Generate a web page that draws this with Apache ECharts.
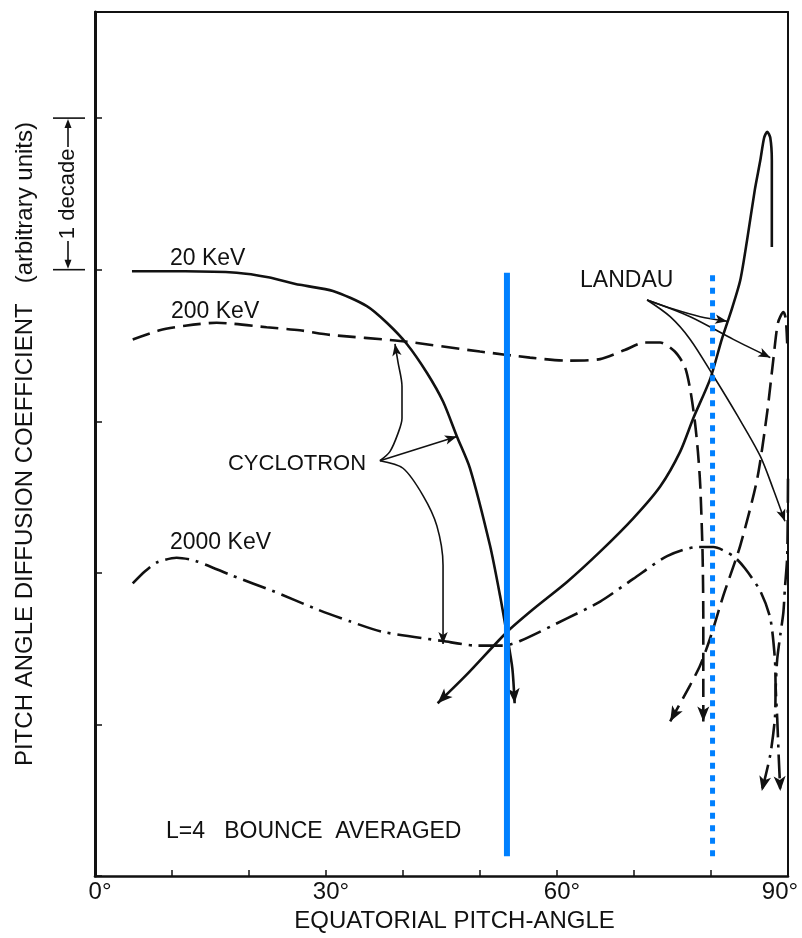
<!DOCTYPE html>
<html><head><meta charset="utf-8">
<script src="https://cdn.jsdelivr.net/npm/echarts@6/dist/echarts.min.js"></script>
<style>html,body{margin:0;padding:0;background:#fff}#c{width:802px;height:938px}</style>
</head><body><div id="c"></div>
<script>
// ---- axis settings (x: degrees, y: decades of the diffusion coefficient, arbitrary units) ----
const xLabelValues = [0, 30, 60, 90];
const X_MIN = 0, X_MAX = 90, Y_MIN = 0, Y_MAX = 5.7;

// ---- curves: [pitch angle (deg), log10 D (decades)] ----
const keV20Cyclotron = [[4.8,3.99],[11.7,3.99],[18.4,3.98],[22.5,3.95],[26.6,3.90],[30.9,3.86],[35.3,3.76],[37.9,3.65],[40.5,3.51],[43.1,3.32],[45.2,3.13],[47.0,2.90],[48.7,2.69],[51.3,2.18],[52.6,1.85],[53.5,1.59],[54.2,1.37],[54.5,1.14]];
const keV20Landau = [[44.5,1.14],[48.3,1.33],[53.5,1.61],[56.9,1.76],[61.3,1.94],[65.6,2.14],[69.9,2.36],[73.4,2.57],[76.0,2.80],[77.7,3.02],[79.9,3.28],[81.4,3.54],[82.7,3.74],[83.8,3.93],[84.7,4.20],[85.7,4.53],[86.4,4.72],[86.9,4.87],[87.3,4.91],[87.7,4.87],[87.9,4.72],[87.9,4.15]];
const keV200Cyclotron = [[4.9,3.54],[8.4,3.60],[11.7,3.63],[15.8,3.65],[22.3,3.62],[26.6,3.60],[30.5,3.57],[39.6,3.53],[50.0,3.46],[56.5,3.42],[61.3,3.40],[65.6,3.41],[68.8,3.47],[71.4,3.52],[73.4,3.52],[75.3,3.46],[76.6,3.36],[77.3,3.21],[77.9,3.00],[78.3,2.80],[78.6,2.58],[78.9,2.14],[79.0,1.70],[79.0,1.02]];
const keV200Landau = [[74.7,1.02],[77.3,1.26],[78.6,1.39],[79.9,1.57],[81.6,1.85],[83.8,2.18],[86.0,2.62],[87.3,3.06],[88.1,3.41],[88.7,3.65],[89.4,3.72],[89.7,3.68],[89.9,3.51]];
const keV2000Cyclotron = [[4.9,1.93],[6.5,2.01],[8.1,2.07],[10.6,2.10],[13.0,2.08],[17.9,1.98],[23.1,1.88],[28.8,1.76],[33.1,1.68],[37.4,1.61],[45.2,1.55],[49.6,1.52],[53.0,1.52],[55.2,1.55],[61.3,1.70],[65.6,1.81],[69.9,1.96],[74.3,2.11],[78.2,2.17],[80.3,2.17],[82.9,2.11],[84.4,2.03],[86.4,1.88],[87.7,1.70],[88.3,1.43],[88.4,1.24],[88.6,1.04],[88.8,0.78],[89.0,0.56]];
const keV2000Landau = [[90.0,2.62],[89.9,2.11],[89.6,1.90],[89.4,1.74],[89.0,1.59],[88.6,1.43],[88.4,1.24],[88.3,1.04],[87.7,0.80],[86.6,0.56]];

// ---- annotation pointer lines ----
const cyclotronToK20 = [[37.0,2.74],[47.0,2.90]];
const cyclotronToK200 = [[37.0,2.74],[38.3,2.80],[39.35,2.92],[39.87,3.02],[39.87,3.23],[39.35,3.39],[38.96,3.51]];
const cyclotronToK2000 = [[37.0,2.74],[40.0,2.69],[42.6,2.51],[44.4,2.31],[45.2,2.05],[45.2,1.53]];
const landauToK20 = [[71.7,3.80],[75.1,3.74],[78.6,3.69],[82.1,3.66]];
const landauToK200 = [[71.7,3.80],[77.3,3.69],[82.9,3.54],[87.7,3.42]];
const landauToK2000 = [[71.7,3.80],[74.7,3.69],[77.3,3.54],[80.3,3.30],[83.4,3.04],[86.4,2.77],[88.1,2.55],[89.6,2.34]];

// ---- blue marker lines ----
const blueSolidLine = [[53.5,0.13],[53.5,3.98]];
const blueDottedLine = [[80.2,0.13],[80.2,3.98]];

// ---- text labels [text, x (deg), y (decades)] ----
const textLabels = [
  ['20 KeV', 9.74, 4.07],
  ['200 KeV', 9.87, 3.72],
  ['2000 KeV', 9.74, 2.20],
  ['CYCLOTRON', 17.27, 2.72],
  ['LANDAU', 62.99, 3.93],
  ['L=4   BOUNCE  AVERAGED', 9.22, 0.29]
];
const decadeBracket = [4, 5];

const INK = '#111';
const FONT = '"Liberation Sans", Arial, sans-serif';
const G = {left: 95, right: 14, top: 12, bottom: 60};
const pxPerX = (802 - G.left - G.right) / (X_MAX - X_MIN);
const pxPerY = (938 - G.top - G.bottom) / (Y_MAX - Y_MIN);

function rot(a, b) { // rotation so that arrow points from a to b
  const dx = (b[0] - a[0]) * pxPerX, dy = (b[1] - a[1]) * pxPerY;
  return Math.atan2(-dx, dy) * 180 / Math.PI;
}
function curve(name, pts, o) {
  const data = pts.map((p, i) => {
    const it = {value: p, symbol: 'none'};
    if (o.arrowEnd && i === pts.length - 1) { it.symbol = 'arrow'; it.symbolRotate = rot(pts[i - 1], p); }
    if (o.arrowStart && i === 0) { it.symbol = 'arrow'; it.symbolRotate = rot(pts[1], p); }
    return it;
  });
  return {
    type: 'line', name, data, smooth: o.smooth == null ? 0.25 : o.smooth,
    showSymbol: true, symbolSize: o.arrowSize || [9, 15], symbolKeepAspect: true,
    itemStyle: {color: o.color || INK},
    lineStyle: {color: o.color || INK, width: o.width || 2.6, type: o.type || 'solid', cap: 'butt'},
    z: o.z || 3, silent: true, animation: false
  };
}

const dash = [18, 8];
const dashDot = [24, 7, 3, 7];
const series = [
  curve('20 keV cyclotron', keV20Cyclotron, {arrowEnd: true}),
  curve('20 keV Landau', keV20Landau, {arrowStart: true}),
  curve('200 keV cyclotron', keV200Cyclotron, {arrowEnd: true, type: dash}),
  curve('200 keV Landau', keV200Landau, {arrowStart: true, type: dash}),
  curve('2000 keV cyclotron', keV2000Cyclotron, {arrowEnd: true, type: dashDot}),
  curve('2000 keV Landau', keV2000Landau, {arrowEnd: true, type: dashDot}),
  curve('c1', cyclotronToK20, {arrowEnd: true, width: 1.6, arrowSize: [7, 12], smooth: 0}),
  curve('c2', cyclotronToK200, {arrowEnd: true, width: 1.6, arrowSize: [7, 12], smooth: 0.3}),
  curve('c3', cyclotronToK2000, {arrowEnd: true, width: 1.6, arrowSize: [7, 12], smooth: 0.3}),
  curve('l1', landauToK20, {arrowEnd: true, width: 1.6, arrowSize: [7, 12], smooth: 0.3}),
  curve('l2', landauToK200, {arrowEnd: true, width: 1.6, arrowSize: [7, 12], smooth: 0.3}),
  curve('l3', landauToK2000, {arrowEnd: true, width: 1.6, arrowSize: [7, 12], smooth: 0.3}),
  curve('blue solid', blueSolidLine, {color: '#0080ff', width: 6, smooth: 0, z: 10}),
  curve('blue dotted', blueDottedLine, {color: '#0080ff', width: 5, type: [6, 6.5], smooth: 0, z: 10})
];

const chart = echarts.init(document.getElementById('c'), null, {renderer: 'canvas'});
chart.setOption({
  animation: false,
  backgroundColor: '#fff',
  grid: G,
  xAxis: [{
    type: 'value', min: X_MIN, max: X_MAX, interval: 10, position: 'bottom',
    axisLine: {onZero: false, lineStyle: {color: INK, width: 2.6}},
    axisTick: {inside: true, length: 6, lineStyle: {color: INK, width: 1.5}},
    splitLine: {show: false},
    axisLabel: {
      margin: 4, color: INK, fontSize: 24, fontFamily: FONT,
      formatter: v => xLabelValues.indexOf(v) < 0 ? '' : (v === X_MAX ? '{e|' + v + '°}' : '{n|' + v + '°}'),
      rich: {
        n: {fontSize: 24, fontFamily: FONT, color: INK, padding: [0, 0, 0, 10]},
        e: {fontSize: 24, fontFamily: FONT, color: INK, padding: [0, 16, 0, 0]}
      }
    },
    name: 'EQUATORIAL PITCH-ANGLE', nameLocation: 'middle', nameGap: 33,
    nameTextStyle: {fontSize: 24, fontFamily: FONT, color: INK, padding: [0, 0, 0, 26]}
  }, {
    type: 'value', min: X_MIN, max: X_MAX, position: 'top',
    axisLine: {show: true, onZero: false, lineStyle: {color: INK, width: 2}},
    axisTick: {show: false}, axisLabel: {show: false}, splitLine: {show: false}
  }],
  yAxis: [{
    type: 'value', min: Y_MIN, max: Y_MAX, interval: 1, position: 'left',
    axisLine: {show: true, onZero: false, lineStyle: {color: INK, width: 3}},
    axisTick: {show: true, inside: true, length: 7, lineStyle: {color: INK, width: 1.5}},
    axisLabel: {show: false}, splitLine: {show: false},
    name: 'PITCH ANGLE DIFFUSION COEFFICIENT   (arbitrary units)',
    nameLocation: 'middle', nameGap: 58, nameRotate: 90,
    nameTextStyle: {fontSize: 24, fontFamily: FONT, color: INK}
  }, {
    type: 'value', min: Y_MIN, max: Y_MAX, position: 'right',
    axisLine: {show: true, onZero: false, lineStyle: {color: INK, width: 2}},
    axisTick: {show: false}, axisLabel: {show: false}, splitLine: {show: false}
  }],
  series
});

// annotation texts positioned through the chart's own coordinate conversion
const toPx = p => chart.convertToPixel({gridIndex: 0}, p);
const graphics = textLabels.map(([t, x, y]) => {
  const p = toPx([x, y]);
  return {type: 'text', x: p[0], y: p[1], z: 20, silent: true,
    style: {text: t, fill: INK, fontSize: t === 'CYCLOTRON' ? 22 : 23, fontFamily: FONT, textAlign: 'left', textVerticalAlign: 'middle'}};
});
// "1 decade" bracket
const yTop = toPx([0, decadeBracket[1]])[1];
const yBot = toPx([0, decadeBracket[0]])[1];
const ax = G.left - 27, barL = G.left - 42, barR = G.left - 10;
const mid = (yTop + yBot) / 2;
graphics.push(
  {type: 'line', shape: {x1: barL, y1: yTop, x2: barR, y2: yTop}, style: {stroke: INK, lineWidth: 1.6}},
  {type: 'line', shape: {x1: barL, y1: yBot, x2: barR, y2: yBot}, style: {stroke: INK, lineWidth: 1.6}},
  {type: 'line', shape: {x1: ax, y1: mid - 47, x2: ax, y2: yTop + 6}, style: {stroke: INK, lineWidth: 1.6}},
  {type: 'line', shape: {x1: ax, y1: mid + 47, x2: ax, y2: yBot - 6}, style: {stroke: INK, lineWidth: 1.6}},
  {type: 'polygon', shape: {points: [[ax, yTop + 1], [ax - 3.5, yTop + 10], [ax + 3.5, yTop + 10]]}, style: {fill: INK}},
  {type: 'polygon', shape: {points: [[ax, yBot - 1], [ax - 3.5, yBot - 10], [ax + 3.5, yBot - 10]]}, style: {fill: INK}},
  {type: 'text', x: ax, y: mid, rotation: Math.PI / 2,
    style: {text: '1 decade', fill: INK, fontSize: 22, fontFamily: FONT, textAlign: 'center', textVerticalAlign: 'middle'}}
);
chart.setOption({graphic: graphics});
</script>
</body></html>
